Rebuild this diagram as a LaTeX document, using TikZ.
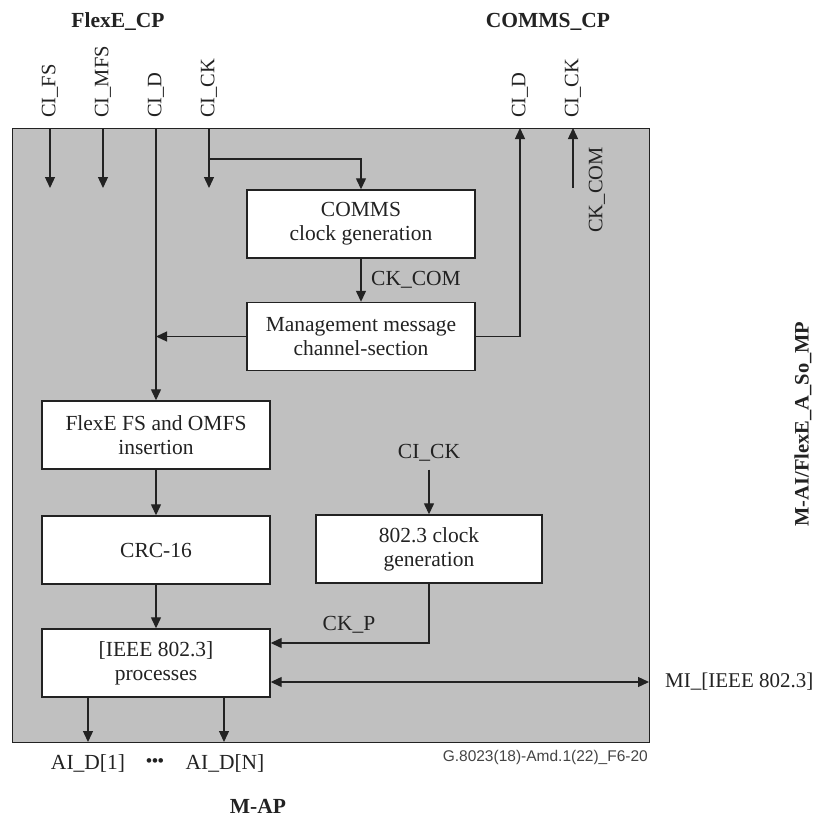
\documentclass[tikz,border=0pt]{standalone}
\usepackage{fontspec}
\setmainfont{Liberation Serif}
\setsansfont{Liberation Sans}
\usetikzlibrary{arrows.meta}
\definecolor{boxgray}{HTML}{C0C0C0}
\definecolor{ink}{HTML}{222222}
\definecolor{notegray}{HTML}{444444}
\begin{document}
\begin{tikzpicture}[x=1pt,y=-1pt,
  every node/.style={font=\fontsize{21.5}{24}\selectfont, text=ink, inner sep=0pt},
  fbox/.style={draw=ink, fill=white, line width=1.4pt, minimum width=228pt, minimum height=68pt, align=center},
  conn/.style={draw=ink, line width=1.3pt},
  arr/.style={conn, -{Triangle[length=11pt,width=10pt]}},
  darr/.style={conn, {Triangle[length=11pt,width=10pt]}-{Triangle[length=11pt,width=10pt]}},
  vlbl/.style={rotate=90, anchor=west, font=\fontsize{20.5}{24}\selectfont},
  blbl/.style={font=\bfseries\fontsize{21.5}{24}\selectfont}]
\useasboundingbox (0,0) rectangle (814,819);
% outer block
\node[draw=ink, fill=boxgray, line width=1.4pt, minimum width=637pt, minimum height=614pt, anchor=north west] (blk) at (12,128) {};
% functional boxes
\node[fbox] (comms) at (361,224) {COMMS\\clock generation};
\node[fbox] (mgmt) at (361,336.5) {Management message\\channel-section};
\node[fbox] (flexe) at (156,435) {FlexE FS and OMFS\\insertion};
\node[fbox] (crc) at (156,550) {CRC-16};
\node[fbox, minimum width=226pt] (clk) at (429,549) {802.3 clock\\generation};
\node[fbox] (ieee) at (156,663) {[IEEE 802.3]\\processes};
% group labels
\node[blbl] (flexecp) at (118,22) {FlexE\_CP};
\node[blbl] (commscp) at (548,22) {COMMS\_CP};
\node[blbl] (map) at (258,806) {M-AP};
\node[blbl, font=\bfseries\fontsize{20.5}{24}\selectfont, rotate=90] (mai) at (803,424) {M-AI/FlexE\_A\_So\_MP};
% top signal labels
\node[vlbl] (lfs) at (50,118) {CI\_FS};
\node[vlbl] (lmfs) at (103,118) {CI\_MFS};
\node[vlbl] (ld) at (156,118) {CI\_D};
\node[vlbl] (lck) at (209,118) {CI\_CK};
\node[vlbl] (rd) at (520,118) {CI\_D};
\node[vlbl] (rck) at (573,118) {CI\_CK};
% inner labels
\node (ckcom) at (416,280) {CK\_COM};
\node[rotate=90, font=\fontsize{20.5}{24}\selectfont] (ckcomr) at (597,190) {CK\_COM};
\node (cick) at (429,453) {CI\_CK};
\node (ckp) at (349,625) {CK\_P};
% bottom labels
\node (ai1l) at (88,763) {AI\_D[1]};
\node[font=\bfseries\fontsize{17}{18}\selectfont] (dots) at (155,763) {•••};
\node (ainl) at (225,763) {AI\_D[N]};
\node[anchor=west, font=\fontsize{21}{24}\selectfont] (mil) at (665,682) {MI\_[IEEE 802.3]};
\node[anchor=east, font=\sffamily\fontsize{15.5}{18}\selectfont, text=notegray] (note) at (648,757) {G.8023(18)-Amd.1(22)\_F6-20};
% coordinates for free ends
\coordinate (fsend) at (50,188);
\coordinate (mfsend) at (103,188);
\coordinate (ckend) at (209,188);
\coordinate (ckbr) at (209,159);
\coordinate (rckstart) at (573,188);
\coordinate (ckpc) at (429,643);
\coordinate (mi) at (649,682);
\coordinate (ai1) at (88,742);
\coordinate (ain) at (224,742);
% connectors
\draw[arr] (lfs.west |- blk.north) -- (fsend);
\draw[arr] (lmfs.west |- blk.north) -- (mfsend);
\draw[arr] (ld.west |- blk.north) -- (flexe.north);
\draw[arr] (lck.west |- blk.north) -- (ckend);
\draw[arr] (ckbr) -| (comms.north);
\draw[arr] (comms.south) -- (mgmt.north);
\draw[arr] (mgmt.west) -- (mgmt.west -| ld.west);
\draw[arr] (mgmt.east) -| (rd.west |- blk.north);
\draw[arr] (rckstart) -- (rck.west |- blk.north);
\draw[arr] (flexe.south) -- (crc.north);
\draw[arr] (crc.south) -- (ieee.north);
\draw[arr] ([yshift=-8pt]cick.south -| clk.north) -- (clk.north);
\draw[arr] (clk.south) -- (ckpc) -- (ckpc -| ieee.east);
\draw[darr] (ieee.east |- mi) -- (mi);
\draw[arr] (ieee.south -| ai1) -- (ai1);
\draw[arr] (ieee.south -| ain) -- (ain);
\end{tikzpicture}
\end{document}
